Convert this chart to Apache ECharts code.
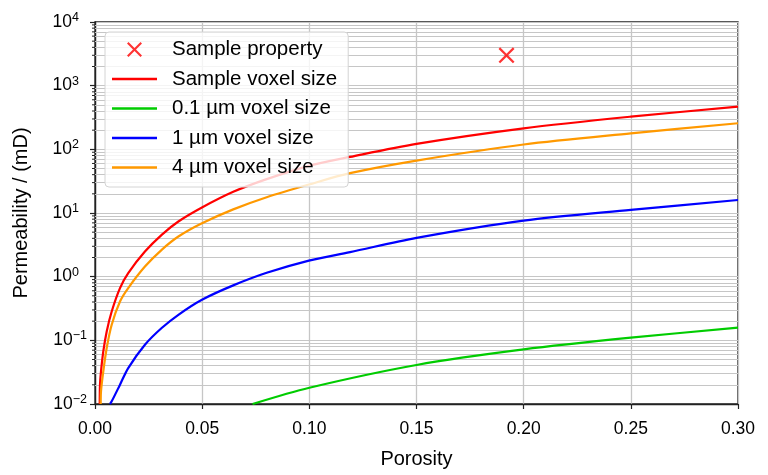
<!DOCTYPE html>
<html>
<head>
<meta charset="utf-8">
<script src="https://cdn.jsdelivr.net/npm/echarts@6/dist/echarts.min.js"></script>
<style>html,body{margin:0;padding:0;background:#fff}#c{width:768px;height:475px}</style>
</head>
<body>
<div id="c"></div>
<script>
// ---- data ----
var sampleProperty = [[0.192, 3000]];

var redPhi = [0.0022, 0.00233, 0.0028, 0.00387, 0.00546, 0.00779, 0.01166, 0.0155, 0.0233, 0.0311, 0.0389, 0.0499, 0.0645, 0.0801, 0.0998, 0.119, 0.150, 0.200, 0.250, 0.300];
var redK   = [0.01, 0.0201, 0.0325, 0.067, 0.138, 0.284, 0.662, 1.14, 2.48, 4.54, 7.35, 12.2, 21.5, 34, 55, 76, 122, 214, 326, 468];

var greenPhi = [0.0735, 0.100, 0.150, 0.200, 0.250, 0.300];
var greenK   = [0.01, 0.018, 0.041, 0.072, 0.11, 0.158];

var bluePhi = [0.0070, 0.00779, 0.01166, 0.0155, 0.0233, 0.0311, 0.0389, 0.0499, 0.0645, 0.0801, 0.0998, 0.119, 0.150, 0.200, 0.250, 0.300];
var blueK   = [0.01, 0.011, 0.0201, 0.0367, 0.0853, 0.156, 0.252, 0.434, 0.73, 1.15, 1.79, 2.43, 4.07, 7.6, 11.2, 16];

var orangePhi = [0.00266, 0.0028, 0.00387, 0.00546, 0.00779, 0.01166, 0.0155, 0.0233, 0.0311, 0.0389, 0.0499, 0.0645, 0.0801, 0.0998, 0.119, 0.150, 0.200, 0.250, 0.300];
var orangeK   = [0.01, 0.0158, 0.0325, 0.0757, 0.176, 0.408, 0.662, 1.44, 2.64, 4.27, 6.9, 11.4, 17.7, 28, 42.2, 66.5, 119, 178, 257];

var xTicks = [0, 0.05, 0.10, 0.15, 0.20, 0.25, 0.30];
var yDecades = [-2, -1, 0, 1, 2, 3, 4];
var seriesNames = ['Sample property', 'Sample voxel size', '0.1 \u00b5m voxel size', '1 \u00b5m voxel size', '4 \u00b5m voxel size'];

function zip(a, b) { return a.map(function (v, i) { return [v, b[i]]; }); }

// minor log grid positions (2..9 x 10^n)
var minorVals = [];
yDecades.slice(0, -1).forEach(function (e) {
  for (var m = 2; m <= 9; m++) minorVals.push(m * Math.pow(10, e));
});

var XPATH = 'path://M0,2L2,0L10,8L18,0L20,2L12,10L20,18L18,20L10,12L2,20L0,18L8,10Z';
var LINEPATH = 'path://M0,0L45,0L45,2.3L0,2.3Z';
var GRIDC = '#c6c6c6';
var FONT = 'Liberation Sans, Arial, sans-serif';

var chart = echarts.init(document.getElementById('c'));

function lineSeries(name, phi, k, color, z) {
  return {
    name: name, type: 'line', data: zip(phi, k), symbol: 'none', showSymbol: false,
    smooth: 0.3, clip: true, z: z,
    lineStyle: { color: color, width: 2.2 }, itemStyle: { color: color },
    animation: false
  };
}

var series = [
  {
    name: seriesNames[0], type: 'scatter', data: sampleProperty, symbol: XPATH, symbolSize: 16,
    itemStyle: { color: '#ff0000' }, z: 6, animation: false
  },
  lineSeries(seriesNames[1], redPhi, redK, '#ff0000', 3),
  lineSeries(seriesNames[2], greenPhi, greenK, '#00cc00', 3),
  lineSeries(seriesNames[3], bluePhi, blueK, '#0000ff', 3),
  lineSeries(seriesNames[4], orangePhi, orangeK, '#ff9900', 3)
];
series[2].markLine = {
  silent: true, symbol: ['none', 'none'], z: 1, animation: false,
  label: { show: false },
  lineStyle: { color: GRIDC, type: 'solid', width: 1 },
  emphasis: { disabled: true },
  data: minorVals.map(function (v) { return { yAxis: v }; })
};

chart.setOption({
  backgroundColor: '#ffffff',
  textStyle: { fontFamily: FONT },
  grid: { left: 95, right: 30, top: 22, bottom: 71, show: true, borderColor: '#222', borderWidth: 1.4, backgroundColor: 'transparent' },
  legend: {
    orient: 'vertical', left: 105, top: 32,
    padding: [7, 11, 9, 7], itemGap: 8.5, itemWidth: 45, itemHeight: 15,
    backgroundColor: 'rgba(255,255,255,0.8)', borderColor: '#d4d4d4', borderWidth: 1, borderRadius: 4,
    textStyle: { fontSize: 20.5, color: '#000', fontFamily: FONT, padding: [0, 0, 0, 10], lineHeight: 20 },
    selectedMode: false,
    data: [
      { name: seriesNames[0], icon: XPATH, itemStyle: { color: '#ff0000' } },
      { name: seriesNames[1], icon: LINEPATH, itemStyle: { color: '#ff0000' } },
      { name: seriesNames[2], icon: LINEPATH, itemStyle: { color: '#00cc00' } },
      { name: seriesNames[3], icon: LINEPATH, itemStyle: { color: '#0000ff' } },
      { name: seriesNames[4], icon: LINEPATH, itemStyle: { color: '#ff9900' } }
    ]
  },
  xAxis: {
    type: 'value', min: 0, max: 0.3, interval: 0.05,
    name: 'Porosity', nameLocation: 'middle', nameGap: 45,
    nameTextStyle: { fontSize: 20, color: '#000', fontFamily: FONT },
    axisLine: { show: true, lineStyle: { color: '#222', width: 1.4 } },
    axisTick: { show: true, inside: false, length: 5, lineStyle: { color: '#222', width: 1.2 } },
    axisLabel: { fontSize: 17.5, color: '#000', margin: 16, fontFamily: FONT,
      formatter: function (v) { return v.toFixed(2); } },
    splitLine: { show: true, lineStyle: { color: GRIDC, width: 1.3 } }
  },
  yAxis: {
    type: 'log', logBase: 10, min: 0.01, max: 10000,
    name: 'Permeability / (mD)', nameLocation: 'middle', nameGap: 64,
    nameTextStyle: { fontSize: 20, color: '#000', fontFamily: FONT },
    axisLine: { show: true, lineStyle: { color: '#222', width: 1.4 } },
    axisTick: { show: true, inside: false, length: 5, lineStyle: { color: '#222', width: 1.2 } },
    axisLabel: {
      color: '#000', margin: 8, fontFamily: FONT,
      formatter: function (v) {
        var e = Math.round(Math.log10(v));
        if (e < 0) return '{b|10}{s|\u2212' + (-e) + '}';
        return '{b|10}{p|' + e + '}';
      },
      rich: {
        b: { fontSize: 17.5, color: '#000', fontFamily: FONT },
        s: { fontSize: 12.5, color: '#000', fontFamily: FONT, verticalAlign: 'bottom', padding: [0, 0, 9, 0] },
        p: { fontSize: 12.5, color: '#000', fontFamily: FONT, verticalAlign: 'bottom', padding: [0, 8, 9, 0] }
      }
    },
    splitLine: { show: true, lineStyle: { color: GRIDC, width: 1 } }
  },
  series: series
});

// minor tick marks on the left axis, positioned via the axis scale
var gfx = minorVals.map(function (v) {
  var py = chart.convertToPixel({ yAxisIndex: 0 }, v);
  return { type: 'line', silent: true, z: 10,
    shape: { x1: 95 - 3, y1: py, x2: 95, y2: py },
    style: { stroke: '#222', lineWidth: 1 } };
});
chart.setOption({ graphic: gfx });
</script>
</body>
</html>
